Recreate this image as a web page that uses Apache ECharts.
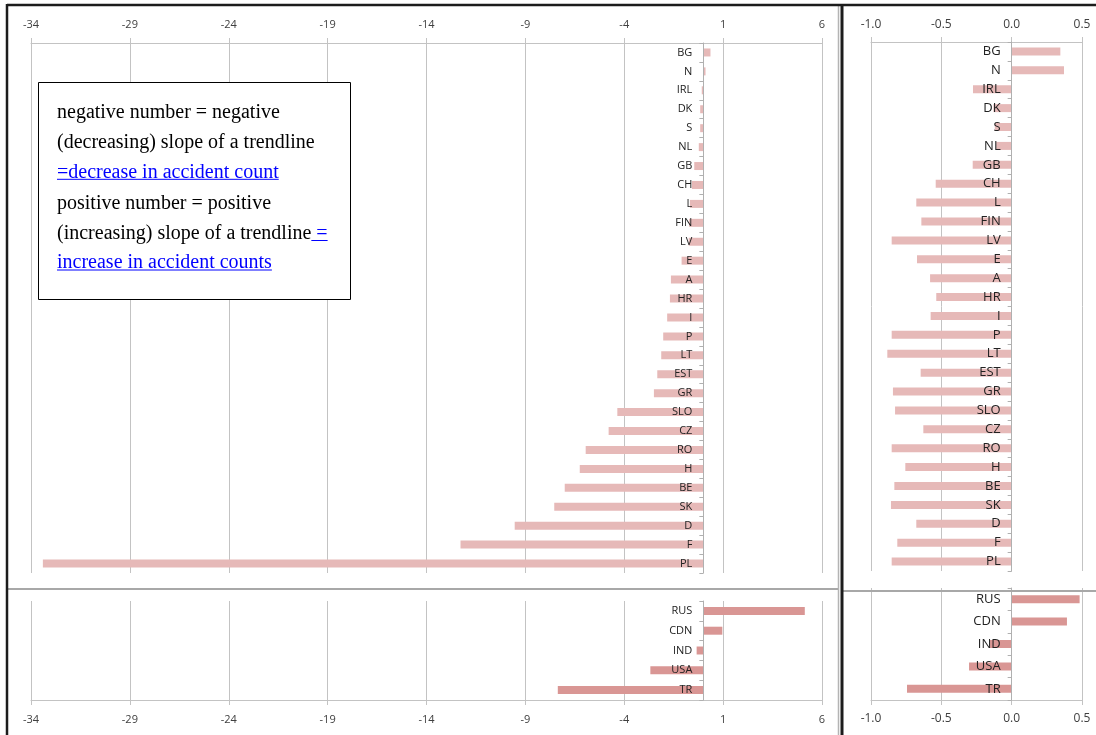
<!DOCTYPE html>
<html><head><meta charset="utf-8">
<script src="https://cdn.jsdelivr.net/npm/echarts@6/dist/echarts.min.js"></script>
<style>html,body{margin:0;padding:0;background:#fff;}#c{width:1096px;height:735px;}</style>
</head><body><div id="c"></div>
<script>
// ---- data ----
const topCategories = ['BG','N','IRL','DK','S','NL','GB','CH','L','FIN','LV','E','A','HR','I','P','LT','EST','GR','SLO','CZ','RO','H','BE','SK','D','F','PL'];
const topLeftValues = [0.36,0.11,-0.08,-0.16,-0.16,-0.23,-0.46,-0.58,-0.68,-0.72,-0.74,-1.10,-1.64,-1.69,-1.83,-2.03,-2.13,-2.33,-2.50,-4.35,-4.79,-5.95,-6.25,-7.01,-7.54,-9.54,-12.28,-33.4];
const topRightValues = [0.346,0.372,-0.275,-0.13,-0.12,-0.11,-0.277,-0.54,-0.678,-0.642,-0.853,-0.673,-0.58,-0.536,-0.576,-0.853,-0.884,-0.647,-0.844,-0.829,-0.628,-0.853,-0.756,-0.834,-0.858,-0.678,-0.813,-0.853];
const bottomCategories = ['RUS','CDN','IND','USA','TR'];
const bottomLeftValues = [5.13,0.96,-0.34,-2.68,-7.36];
const bottomRightValues = [0.483,0.393,-0.154,-0.303,-0.744];
const leftTicks = [-34,-29,-24,-19,-14,-9,-4,1,6];
const rightTicks = [-1.0,-0.5,0.0,0.5];
const noteLines = [
  {text:'negative number = negative', link:''},
  {text:'(decreasing) slope of a trendline', link:''},
  {text:'', link:'=decrease in accident count'},
  {text:'positive number = positive', link:''},
  {text:'(increasing) slope of a trendline', link:' ='},
  {text:'', link:'increase in accident counts'}
];

// ---- styling ----
const FONT = '"Open Sans", "Noto Sans", sans-serif';
const gridColor = '#c3c3c3';
const lightBar = '#e6b9b8';
const darkBar = '#d99694';

const grids = [
  {left:31, top:43, width:791, height:530},
  {left:31, top:601, width:791, height:99},
  {left:871, top:42, width:211, height:529},
  {left:871, top:588, width:211, height:112}
];
const ranges = [[-34,6],[-34,6],[-1,0.5],[-1,0.5]];

const chart = echarts.init(document.getElementById('c'), null, {renderer:'canvas'});

function valueAxis(gridIndex, position, interval, ticks, fontSize, margin, decimals) {
  return {
    type:'value', gridIndex, position, min:ranges[gridIndex][0], max:ranges[gridIndex][1], interval,
    axisLine:{show:true, lineStyle:{color:gridColor, width:1}},
    axisTick:{show:true, length:5, inside:false, customValues:ticks, lineStyle:{color:gridColor}},
    axisLabel:{show:true, customValues:ticks, margin, fontSize, fontFamily:FONT, color:'#404040',
      formatter: v => decimals ? Number(v).toFixed(decimals) : String(Math.round(v))},
    splitLine:{show:true, lineStyle:{color:gridColor, width:1}}
  };
}
function catAxis(gridIndex, data, fontSize) {
  // place the category axis at value 0 of the value axis
  const r = ranges[gridIndex];
  const zeroOffset = grids[gridIndex].width * (0 - r[0]) / (r[1] - r[0]);
  return {
    type:'category', gridIndex, data, inverse:true, z:5, position:'left', offset:-zeroOffset,
    axisLine:{show:true, onZero:false, lineStyle:{color:'#b0b0b0'}},
    axisTick:{show:true, length:4, lineStyle:{color:'#b0b0b0'}},
    axisLabel:{show:true, margin:11, fontSize, fontFamily:FONT, color:'#222'},
    splitLine:{show:false}
  };
}

// note text box
const ctx = document.createElement('canvas').getContext('2d');
const NOTE_FONT = '20px "Liberation Serif", "Times New Roman", serif';
ctx.font = NOTE_FONT;
const noteX = 57;
const noteCenters = [111.7, 141.5, 171.3, 202.3, 232.5, 262];
const graphics = [];
const dark = '#1c1c1c';
graphics.push({type:'line', z:100, shape:{x1:7, y1:5, x2:842, y2:5}, style:{stroke:dark, lineWidth:2.5}});
graphics.push({type:'line', z:100, shape:{x1:7, y1:4, x2:7, y2:735}, style:{stroke:dark, lineWidth:2.5}});
graphics.push({type:'line', z:100, shape:{x1:842, y1:4, x2:842, y2:735}, style:{stroke:dark, lineWidth:3}});
graphics.push({type:'line', z:100, shape:{x1:842, y1:5, x2:1096, y2:5}, style:{stroke:dark, lineWidth:2.5}});
graphics.push({type:'line', z:99, shape:{x1:838.5, y1:6, x2:838.5, y2:735}, style:{stroke:'#b4b4b4', lineWidth:1.5}});
graphics.push({type:'line', z:99, shape:{x1:8, y1:589, x2:838, y2:589}, style:{stroke:'#a8a8a8', lineWidth:2}});
graphics.push({type:'line', z:99, shape:{x1:843, y1:591, x2:1096, y2:591}, style:{stroke:'#a8a8a8', lineWidth:2}});
graphics.push({type:'rect', z:100, shape:{x:38.5, y:82.5, width:312, height:217}, style:{fill:'#fff', stroke:'#000', lineWidth:1}});
noteLines.forEach((ln, i) => {
  const cy = noteCenters[i] + 1;
  let x = noteX;
  if (ln.text) {
    graphics.push({type:'text', z:101, x, y:cy, style:{text:ln.text, font:NOTE_FONT, fill:'#000', verticalAlign:'middle', align:'left'}});
    x += ctx.measureText(ln.text).width;
  }
  if (ln.link) {
    const w = ctx.measureText(ln.link).width;
    graphics.push({type:'text', z:101, x, y:cy, style:{text:ln.link, font:NOTE_FONT, fill:'#0000ff', verticalAlign:'middle', align:'left'}});
    const uy = noteCenters[i] + 8;
    graphics.push({type:'line', z:101, shape:{x1:x, y1:uy, x2:x+w, y2:uy}, style:{stroke:'#0000ff', lineWidth:1}});
  }
});

const option = {
  backgroundColor:'#fff',
  animation:false,
  grid: grids,
  xAxis:[
    valueAxis(0,'top',5,leftTicks,11,13,0),
    valueAxis(1,'bottom',5,leftTicks,11,14,0),
    valueAxis(2,'top',0.5,rightTicks,12,11,1),
    valueAxis(3,'bottom',0.5,rightTicks,12,13,1)
  ],
  yAxis:[
    catAxis(0, topCategories, 11),
    catAxis(1, bottomCategories, 11),
    catAxis(2, topCategories, 13),
    catAxis(3, bottomCategories, 13)
  ],
  series:[
    {type:'bar', xAxisIndex:0, yAxisIndex:0, data:topLeftValues, barWidth:8, itemStyle:{color:lightBar}},
    {type:'bar', xAxisIndex:1, yAxisIndex:1, data:bottomLeftValues, barWidth:8, itemStyle:{color:darkBar}},
    {type:'bar', xAxisIndex:2, yAxisIndex:2, data:topRightValues, barWidth:8, itemStyle:{color:lightBar}},
    {type:'bar', xAxisIndex:3, yAxisIndex:3, data:bottomRightValues, barWidth:8, itemStyle:{color:darkBar}}
  ],
  graphic: graphics
};
chart.setOption(option);
</script></body></html>
